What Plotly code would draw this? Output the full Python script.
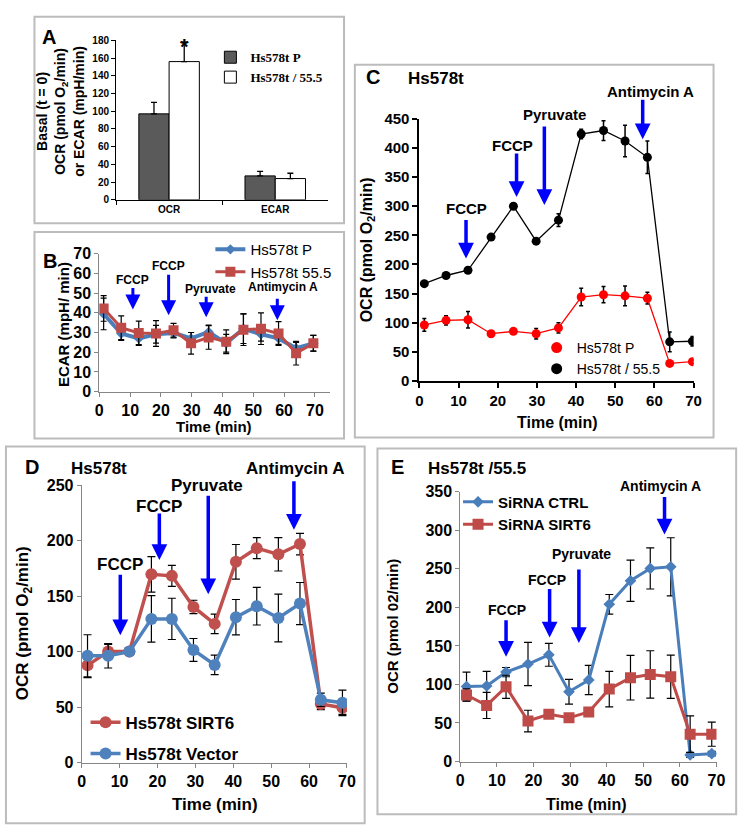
import plotly.graph_objects as go

W, H = 754, 840

def fx(p):
    return p / W

def fy(p):
    return 1 - p / H

# ---------------- data ----------------
# Panel A (basal)
a_categories = ["OCR", "ECAR"]
a_p_values = [97, 27]
a_p_err = [13, 5]
a_55_values = [156, 24]
a_55_err = [22, 6]

# Panel B (ECAR)
b_time = [1.4, 7.1, 12.8, 18.4, 24.1, 29.8, 35.5, 41.2, 46.8, 52.5, 58.2, 63.9, 69.5]
b_p = [39.4, 29.5, 27.0, 29.1, 29.8, 27.0, 30.3, 24.5, 31.9, 29.1, 27.0, 22.0, 24.5]
b_p_err = [8, 3.5, 3.5, 4.5, 2.5, 3, 3.5, 4.5, 7.5, 3.5, 3, 3, 4]
b_55 = [42.2, 32.4, 29.8, 29.5, 31.1, 24.5, 27.5, 25.3, 31.4, 31.9, 29.5, 19.5, 24.5]
b_55_err = [6.5, 6, 6, 6.5, 3.5, 5.5, 6, 6, 8, 8, 6, 6, 4]

# Panel C (OCR Hs578t)
c_time = [1.25, 6.8, 12.4, 18.3, 24.0, 29.8, 35.5, 41.3, 47.0, 52.5, 58.2, 63.9, 69.7]
c_p = [96, 104, 105, 81, 85, 81, 91, 144, 148, 146, 142, 30, 33]
c_p_err = [11, 8, 14, 3, 3, 9, 9, 15, 14, 17, 10, 3, 3]
c_55 = [167, 181, 190, 247, 300, 240, 276, 424, 430, 412, 384, 67, 68]
c_55_err = [3, 3, 4, 3, 3, 3, 11, 8, 17, 27, 28, 17, 8]

# Panel D (OCR Hs578t SIRT6 / Vector)
d_time = [1.55, 7.0, 12.6, 18.4, 23.8, 29.5, 35.1, 40.7, 46.2, 51.9, 57.6, 63.1, 68.8]
d_sirt6 = [87.6, 100, 100, 169.7, 168.3, 140.3, 125, 181, 193.3, 187.7, 197, 52.7, 49.4]
d_sirt6_err = [11, 6.5, 3, 16, 9.4, 6, 8.8, 15.6, 9.4, 15, 9.7, 5, 6]
d_vector = [96.2, 96.2, 100, 129.5, 129.5, 101.5, 88, 131, 141, 130.3, 143.3, 56.5, 53.8]
d_vector_err = [19, 11, 3, 21, 18.6, 10.3, 8.8, 16, 17, 21.6, 19, 6, 11.5]

# Panel E (OCR Hs578t/55.5 siRNA)
e_time = [1.7, 7.2, 12.5, 18.5, 24.2, 29.7, 35.1, 40.7, 46.5, 51.9, 57.5, 62.8, 68.7]
e_ctrl = [97.3, 98, 116, 126.5, 138.4, 90.5, 105.8, 204, 234.5, 250.5, 252.6, 8.5, 10.2]
e_ctrl_err = [18.6, 19, 6, 28, 14.8, 16, 19, 12.7, 26.7, 26.7, 37.7, 3, 3]
e_sirt6 = [86.3, 72.8, 96.9, 52.5, 61.3, 56.7, 64.4, 94, 108.8, 113, 110, 35.5, 35.5]
e_sirt6_err = [8, 17, 15, 14, 4, 4, 4, 23, 29, 30.7, 28, 23.7, 15.7]

# ---------------- style ----------------
FONT = "Liberation Sans, Arial, sans-serif"
SERIF = "Liberation Serif, Times New Roman, serif"
BLUE_ARROW = "#0000ff"
XL_RED = "#c0504d"
XL_BLUE = "#4f81bd"
GRAY_AX = "#868686"

# plot-area geometry in pixels: (left, right, xrange, bottom, top, yrange)
GEOM = {
    "B": (97, 332, (0, 75), 391, 250, (0, 70)),
    "C": (422.7, 701.7, (0, 70), 380, 112.3, (0, 450)),
    "D": (79, 349, (0, 70), 770, 486.7, (0, 250)),
    "E": (464.3, 725, (0, 70), 769, 493.3, (0, 350)),
}

def to_px(panel, t, v):
    l, r, xr, b, tp, yr = GEOM[panel]
    px = l + (t - xr[0]) / (xr[1] - xr[0]) * (r - l)
    py = b - (v - yr[0]) / (yr[1] - yr[0]) * (b - tp)
    return px, py


def err(arr, th=1.2, w=3):
    return dict(type="data", array=arr, color="black", thickness=th, width=w, visible=True)


fig = go.Figure()

# ----- Panel A -----
fig.add_trace(go.Bar(
    x=a_categories, y=a_p_values, name="Hs578t P", xaxis="x", yaxis="y",
    marker=dict(color="#5a5a5a", line=dict(color="black", width=1)),
    error_y=dict(type="data", array=a_p_err, arrayminus=[0, 0], symmetric=False,
                 color="black", thickness=1.3, width=3),
    legend="legend",
))
fig.add_trace(go.Bar(
    x=a_categories, y=a_55_values, name="Hs578t / 55.5", xaxis="x", yaxis="y",
    marker=dict(color="white", line=dict(color="black", width=1)),
    error_y=dict(type="data", array=a_55_err, arrayminus=[0, 0], symmetric=False,
                 color="black", thickness=1.3, width=3),
    legend="legend",
))

# ----- Panel B -----
fig.add_trace(go.Scatter(
    x=b_time, y=b_p, name="Hs578t P", xaxis="x2", yaxis="y2", mode="lines+markers",
    line=dict(color="#4a7ebb", width=4), marker=dict(symbol="diamond", size=8, color="#4a7ebb"),
    error_y=err(b_p_err), legend="legend2",
))
fig.add_trace(go.Scatter(
    x=b_time, y=b_55, name="Hs578t 55.5", xaxis="x2", yaxis="y2", mode="lines+markers",
    line=dict(color="#be4b48", width=3), marker=dict(symbol="square", size=10, color="#be4b48"),
    error_y=err(b_55_err), legend="legend2",
))

# ----- Panel C -----
fig.add_trace(go.Scatter(
    x=c_time, y=c_p, name="Hs578t P", xaxis="x3", yaxis="y3", mode="lines+markers",
    line=dict(color="#ff0000", width=1.3), marker=dict(symbol="circle", size=9, color="#ff0000"),
    error_y=err(c_p_err, 1.5, 2), showlegend=False,
))
fig.add_trace(go.Scatter(
    x=c_time, y=c_55, name="Hs578t / 55.5", xaxis="x3", yaxis="y3", mode="lines+markers",
    line=dict(color="black", width=1.3), marker=dict(symbol="circle", size=9, color="black"),
    error_y=err(c_55_err, 1.5, 2), showlegend=False,
))
# legend entries for panel C (marker-only keys, as in the original)
fig.add_trace(go.Scatter(
    x=[None], y=[None], name="Hs578t P", xaxis="x3", yaxis="y3", mode="markers",
    marker=dict(symbol="circle", size=11, color="#ff0000"), legend="legend3",
))
fig.add_trace(go.Scatter(
    x=[None], y=[None], name="Hs578t / 55.5", xaxis="x3", yaxis="y3", mode="markers",
    marker=dict(symbol="circle", size=11, color="black"), legend="legend3",
))

# ----- Panel D -----
fig.add_trace(go.Scatter(
    x=d_time, y=d_sirt6, name="Hs578t SIRT6", xaxis="x4", yaxis="y4", mode="lines+markers",
    line=dict(color=XL_RED, width=3.5), marker=dict(symbol="circle", size=12, color=XL_RED),
    error_y=err(d_sirt6_err, 1.2, 4), legend="legend4", legendgroup="d1",
))
fig.add_trace(go.Scatter(
    x=d_time, y=d_vector, name="Hs578t Vector", xaxis="x4", yaxis="y4", mode="lines+markers",
    line=dict(color=XL_BLUE, width=3.5), marker=dict(symbol="circle", size=12, color=XL_BLUE),
    error_y=err(d_vector_err, 1.2, 4), legend="legend4", legendgroup="d2",
))

# ----- Panel E -----
fig.add_trace(go.Scatter(
    x=e_time, y=e_ctrl, name="SiRNA CTRL", xaxis="x5", yaxis="y5", mode="lines+markers",
    line=dict(color="#4a7ebb", width=3), marker=dict(symbol="diamond", size=9, color="#4a7ebb"),
    error_y=err(e_ctrl_err, 1.2, 4), legend="legend5",
))
fig.add_trace(go.Scatter(
    x=e_time, y=e_sirt6, name="SiRNA SIRT6", xaxis="x5", yaxis="y5", mode="lines+markers",
    line=dict(color="#be4b48", width=3), marker=dict(symbol="square", size=11, color="#be4b48"),
    error_y=err(e_sirt6_err, 1.2, 4), legend="legend5",
))

# ---------------- axes ----------------
def axis_common(color, lw, size, tlen=4):
    return dict(showline=True, linecolor=color, linewidth=lw, ticks="outside", ticklen=tlen,
                tickcolor=color, tickwidth=lw, showgrid=False, zeroline=False,
                tickfont=dict(family=FONT, size=size, color="black", weight="bold"),
                fixedrange=True)

def xdom(p):
    g = GEOM[p]
    return [fx(g[0]), fx(g[1])]

def ydom(p):
    g = GEOM[p]
    return [fy(g[3]), fy(g[4])]

layout = dict(
    width=W, height=H, margin=dict(l=0, r=0, t=0, b=0),
    paper_bgcolor="white", plot_bgcolor="rgba(0,0,0,0)",
    barmode="group", bargap=0.43, bargroupgap=0,
    font=dict(family=FONT, color="black"),
)

# A
layout["xaxis"] = dict(domain=[fx(114), fx(330)], anchor="y", type="category",
                       tickson="boundaries", **axis_common("black", 1, 10, 4))
layout["yaxis"] = dict(domain=[fy(195), fy(32)], anchor="x", range=[0, 180], dtick=20,
                       **axis_common("black", 1, 10, 4))
# B
layout["xaxis2"] = dict(domain=xdom("B"), anchor="y2", range=list(GEOM["B"][2]),
                        tickvals=[0, 10, 20, 30, 40, 50, 60, 70], **axis_common(GRAY_AX, 1, 16, 4))
layout["yaxis2"] = dict(domain=ydom("B"), anchor="x2", range=list(GEOM["B"][5]), dtick=10,
                        **axis_common(GRAY_AX, 1, 16, 4))
# C
layout["xaxis3"] = dict(domain=xdom("C"), anchor="y3", range=list(GEOM["C"][2]), dtick=10,
                        **axis_common("black", 2, 15, 5))
layout["yaxis3"] = dict(domain=ydom("C"), anchor="x3", range=list(GEOM["C"][5]), dtick=50,
                        **axis_common("black", 2, 15, 5))
# D
layout["xaxis4"] = dict(domain=xdom("D"), anchor="y4", range=list(GEOM["D"][2]), dtick=10,
                        **axis_common(GRAY_AX, 1, 16, 4))
layout["yaxis4"] = dict(domain=ydom("D"), anchor="x4", range=list(GEOM["D"][5]), dtick=50,
                        **axis_common(GRAY_AX, 1, 16, 4))
# E
layout["xaxis5"] = dict(domain=xdom("E"), anchor="y5", range=list(GEOM["E"][2]), dtick=10,
                        **axis_common(GRAY_AX, 1, 16, 4))
layout["yaxis5"] = dict(domain=ydom("E"), anchor="x5", range=list(GEOM["E"][5]), dtick=50,
                        **axis_common(GRAY_AX, 1, 16, 4))

# ---------------- legends ----------------
def leg(x, y, size, bold=True, family=FONT, gap=0):
    return dict(x=fx(x), y=fy(y), xanchor="left", yanchor="top", bgcolor="rgba(0,0,0,0)",
                font=dict(family=family, size=size, color="black", weight="bold" if bold else "normal"),
                itemwidth=30, tracegroupgap=gap, traceorder="normal", borderwidth=0)

layout["legend"] = leg(210, 34, 13, True, SERIF)
layout["legend2"] = leg(210, 229, 15, False)
layout["legend3"] = leg(542, 330, 14, False)
layout["legend4"] = leg(83, 711, 17, True, gap=6)
layout["legend4"]["traceorder"] = "grouped"
layout["legend5"] = leg(462, 487, 15, True)

fig.update_layout(**layout)

# ---------------- annotations ----------------
ann = []

def text_p(t, x, y, size, angle=0, bold=True, family=FONT):
    ann.append(dict(text=t, x=fx(x), y=fy(y), xref="paper", yref="paper", showarrow=False,
                    textangle=angle, xanchor="center", yanchor="middle",
                    font=dict(family=family, size=size, color="black",
                              weight="bold" if bold else "normal")))

def text_d(t, panel, x, y, size):
    px, py = to_px(panel, x, y)
    text_p(t, px, py, size)

AXREF = {"B": ("x2", "y2"), "C": ("x3", "y3"), "D": ("x4", "y4"), "E": ("x5", "y5")}

def arrow_d(panel, x, y, length, width=3.5, size=0.9):
    xr, yr = AXREF[panel]
    ann.append(dict(text="", x=x, y=y, xref=xr, yref=yr, ax=0, ay=-length,
                    showarrow=True, arrowhead=2, arrowsize=size, arrowwidth=width,
                    arrowcolor=BLUE_ARROW))

# Panel A texts
text_p("A", 46, 29, 20)
text_p("Basal (t = 0)<br>OCR (pmol O<sub>2</sub>/min)<br>or ECAR (mpH/min)", 57, 105, 14, -90)
text_p("*", 184, 38, 22)

# Panel B
text_p("B", 47, 258, 20)
text_p("ECAR (mpH/ min)", 60, 322, 15, -90)
text_p("Time (min)", 214, 427, 15)
text_d("FCCP", "B", 10.9, 56.6, 12)
arrow_d("B", 10.9, 41.7, 23, 3, 1)
text_d("FCCP", "B", 22.5, 63.6, 12)
arrow_d("B", 22.5, 38.7, 42, 3, 1)
text_d("Pyruvate", "B", 36.0, 52, 12)
arrow_d("B", 34.7, 37.7, 22, 3, 1)
text_d("Antimycin A", "B", 59.7, 53, 12)
arrow_d("B", 57.8, 36.2, 23, 3, 1)

# Panel C
text_p("C", 375, 69, 20)
text_p("Hs578t", 440, 71, 17)
text_p("OCR (pmol O<sub>2</sub>/min)", 370, 246, 16, -90)
text_p("Time (min)", 563, 423, 16)
text_d("FCCP", "C", 11.9, 296, 15)
arrow_d("C", 11.9, 210, 40)
text_d("FCCP", "C", 23.7, 405, 15)
arrow_d("C", 24.8, 316, 45)
text_d("Pyruvate", "C", 34.4, 457, 15)
arrow_d("C", 31.9, 302, 80)
text_d("Antimycin A", "C", 59.0, 497, 15)
arrow_d("C", 57.0, 415, 41)

# Panel D
text_p("D", 28, 468, 20)
text_p("Hs578t", 97, 470, 17)
text_p("OCR (pmol O<sub>2</sub>/min)", 20, 628, 17, -90)
text_p("Time (min)", 215, 813, 17)
text_d("FCCP", "D", 10.1, 179, 17)
arrow_d("D", 10.2, 114.7, 62)
text_d("FCCP", "D", 20.5, 231, 17)
arrow_d("D", 20.5, 182.7, 48)
text_d("Pyruvate", "D", 33.2, 250, 17)
arrow_d("D", 33.4, 151.8, 100)
text_d("Antimycin A", "D", 56.5, 265, 17)
arrow_d("D", 56.0, 210, 50)

# Panel E
text_p("E", 400, 468, 20)
text_p("Hs578t /55.5", 481, 470, 17)
text_p("OCR (pmol 02/min)", 395, 631, 15, -90)
text_p("Time (min)", 593, 813, 16)
text_d("FCCP", "E", 12.8, 196.8, 14)
arrow_d("E", 12.5, 135.8, 38)
text_d("FCCP", "E", 23.8, 236, 14)
arrow_d("E", 24.4, 161, 50)
text_d("Pyruvate", "E", 33.0, 269, 14)
arrow_d("E", 32.4, 153.6, 75)
text_d("Antimycin A", "E", 54.7, 358, 14)
arrow_d("E", 55.8, 294.5, 39)

fig.update_layout(annotations=ann)

# ---------------- panel frames ----------------
frames = [(31, 8, 346, 219), (31, 228, 346, 439), (357, 57, 722, 438),
          (2, 447, 367, 832), (380, 449, 745, 823)]
shapes = []
for x0, y0, x1, y1 in frames:
    shapes.append(dict(type="rect", xref="paper", yref="paper", x0=fx(x0), x1=fx(x1),
                       y0=fy(y1), y1=fy(y0), line=dict(color="#bcbcbc", width=2),
                       fillcolor="rgba(0,0,0,0)", layer="below"))
fig.update_layout(shapes=shapes)

fig.write_html("out.html", config={"displayModeBar": False},
               post_script="document.body.style.margin='0';document.body.style.padding='0';")
